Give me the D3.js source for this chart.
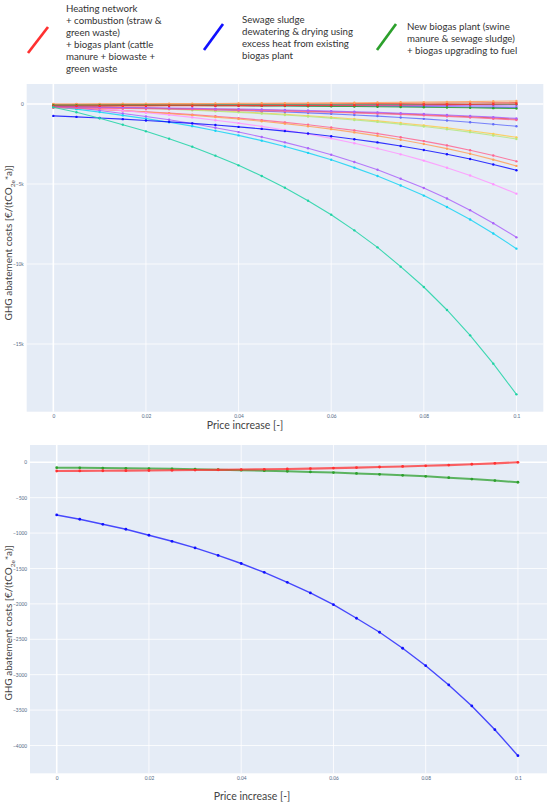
<!DOCTYPE html>
<html><head><meta charset="utf-8">
<script src="https://cdn.jsdelivr.net/npm/d3@7"></script>
<style>body{margin:0;background:#fff} svg{display:block}</style>
</head><body><svg id="c" width="550" height="806"></svg>
<script>
// ---------- data ----------
const priceIncrease = [0,0.005,0.01,0.015,0.02,0.025,0.03,0.035,0.04,0.045,0.05,0.055,0.06,0.065,0.07,0.075,0.08,0.085,0.09,0.095,0.1];
const xTicks = [0,0.02,0.04,0.06,0.08,0.1];
const xTickLabels = ["0","0.02","0.04","0.06","0.08","0.1"];
const topYTicks = [0,-5000,-10000,-15000];
const topYTickLabels = ["0","\u22125k","\u221210k","\u221215k"];
const bottomYTicks = [0,-500,-1000,-1500,-2000,-2500,-3000,-3500,-4000];
const bottomYTickLabels = ["0","\u2212500","\u22121000","\u22121500","\u22122000","\u22122500","\u22123000","\u22123500","\u22124000"];

const legendNames = [
  ["Heating network","+ combustion (straw &","green waste)","+ biogas plant (cattle","manure + biowaste +","green waste"],
  ["Sewage sludge","dewatering & drying using","excess heat from existing","biogas plant"],
  ["New biogas plant (swine","manure & sewage sludge)","+ biogas upgrading to fuel"]
];

// highlighted scenarios (shown in both charts)
const heatingNetwork = [-123,-122,-120,-118,-116,-113,-110,-107,-103,-99,-95,-89,-82,-75,-67,-59,-50,-40,-28,-15,0];
const sewageSludge   = [-744,-805,-876,-946,-1031,-1116,-1210,-1315,-1430,-1555,-1695,-1846,-2011,-2203,-2401,-2627,-2873,-3145,-3442,-3777,-4144];
const newBiogas      = [-76,-79,-82,-85,-89,-93,-98,-104,-111,-118,-127,-136,-146,-157,-170,-184,-199,-217,-237,-258,-282];

// other scenarios (top chart only)
const scenTeal     = [-206,-519,-894,-1292,-1708,-2167,-2667,-3229,-3833,-4500,-5229,-6042,-6917,-7896,-8958,-10167,-11438,-12875,-14458,-16229,-18146];
const scenCyan     = [-170,-321,-507,-711,-915,-1137,-1385,-1669,-1962,-2290,-2654,-3053,-3488,-3976,-4500,-5094,-5724,-6434,-7214,-8093,-9042];
const scenPurple   = [-90,-230,-403,-593,-782,-988,-1219,-1483,-1755,-2060,-2398,-2769,-3173,-3626,-4112,-4665,-5250,-5910,-6635,-7451,-8333];
const scenViolet   = [-80,-174,-290,-417,-544,-682,-837,-1013,-1196,-1400,-1627,-1875,-2146,-2450,-2776,-3146,-3538,-3980,-4466,-5013,-5604];
const scenRose     = [-200,-258,-329,-406,-484,-569,-663,-770,-883,-1009,-1147,-1300,-1465,-1651,-1851,-2078,-2318,-2588,-2886,-3221,-3583];
const scenOrange   = [-200,-262,-339,-424,-508,-600,-703,-820,-941,-1077,-1228,-1393,-1573,-1774,-1991,-2237,-2497,-2791,-3114,-3477,-3870];
const scenYellow   = [-80,-114,-156,-202,-248,-298,-354,-419,-485,-559,-641,-731,-829,-939,-1057,-1192,-1334,-1494,-1670,-1869,-2083];
const scenLime     = [-100,-135,-179,-227,-275,-328,-386,-453,-522,-599,-685,-779,-881,-996,-1119,-1259,-1407,-1574,-1758,-1965,-2188];
const scenIndigo   = [-150,-171,-197,-226,-254,-286,-320,-360,-401,-447,-498,-554,-615,-684,-757,-840,-929,-1028,-1138,-1261,-1394];
const scenRed2     = [-200,-213,-229,-246,-263,-282,-303,-327,-352,-379,-410,-444,-481,-522,-566,-616,-670,-730,-796,-870,-950];
const scenRose2    = [-230,-243,-259,-277,-295,-314,-335,-360,-386,-414,-446,-480,-518,-560,-606,-657,-712,-774,-841,-918,-1000];
const scenPurple2  = [-170,-182,-198,-215,-231,-250,-270,-293,-317,-344,-374,-407,-443,-483,-526,-575,-627,-685,-750,-822,-900];
const scenOrange2  = [0,3,7,12,16,21,26,32,38,45,53,62,71,82,93,105,119,134,151,170,190];
const scenGreen2   = [-40,-40,-39,-39,-38,-38,-37,-36,-36,-35,-34,-33,-32,-31,-30,-29,-27,-26,-24,-23,-21];
const scenIndigo2  = [-60,-63,-66,-70,-74,-78,-83,-89,-94,-100,-107,-115,-123,-133,-142,-154,-166,-179,-194,-211,-229];
const scenPurple3  = [-50,-51,-53,-55,-56,-58,-60,-63,-65,-68,-71,-74,-78,-82,-87,-92,-97,-103,-110,-117,-125];
const scenRed3     = [-20,-18,-16,-14,-11,-9,-6,-3,1,5,9,13,19,24,30,37,45,53,62,72,83];

// ---------- styling tables ----------
const RED = "#ff3030", BLUE = "#1010ff", GREEN = "#2ca02c";
const topSeries = [
  {v: scenYellow,  c: "#FECB52"},
  {v: scenLime,    c: "#B6E880"},
  {v: scenRose,    c: "#FF6692"},
  {v: scenOrange,  c: "#FFA15A"},
  {v: scenViolet,  c: "#FF97FF"},
  {v: scenPurple,  c: "#AB63FA"},
  {v: scenCyan,    c: "#19D3F3"},
  {v: scenIndigo,  c: "#636EFA"},
  {v: scenRed2,    c: "#EF553B"},
  {v: scenRose2,   c: "#FF6692"},
  {v: scenPurple2, c: "#AB63FA"},
  {v: scenIndigo2, c: "#636EFA"},
  {v: scenPurple3, c: "#AB63FA"},
  {v: scenGreen2,  c: "#00CC96"},
  {v: scenRed3,    c: "#EF553B"},
  {v: scenOrange2, c: "#FFA15A"},
  {v: newBiogas,   c: GREEN},
  {v: heatingNetwork, c: RED},
  {v: sewageSludge, c: BLUE},
  {v: scenTeal,    c: "#1ED3A4"}
];
const bottomSeries = [
  {v: sewageSludge, c: BLUE, w: 1.4},
  {v: newBiogas, c: GREEN, w: 2.0},
  {v: heatingNetwork, c: RED, w: 2.1}
];

const svg = d3.select("#c");
const FONT = "Lato, 'Open Sans', sans-serif";

// ---------- legend ----------
const legendCols = [
  {c: RED,   x1: 28, y1: 53, x2: 48, y2: 27, tx: 66, ty: 12},
  {c: BLUE,  x1: 204, y1: 50, x2: 223, y2: 24, tx: 242, ty: 23},
  {c: GREEN, x1: 377, y1: 50, x2: 396, y2: 24, tx: 407, ty: 30}
];
legendCols.forEach((l, i) => {
  svg.append("line").attr("x1", l.x1).attr("y1", l.y1).attr("x2", l.x2).attr("y2", l.y2)
    .attr("stroke", l.c).attr("stroke-width", 2.7);
  const t = svg.append("text").attr("font-family", FONT).attr("font-size", 9.7).attr("fill", "#333");
  legendNames[i].forEach((s, k) => {
    t.append("tspan").attr("x", l.tx).attr("y", l.ty + k * 12).text(s);
  });
});

// ---------- panel drawing ----------
function panel(o) {
  const x = d3.scaleLinear().domain(o.xDom).range([o.left, o.right]);
  const y = d3.scaleLinear().domain(o.yDom).range([o.top, o.bottom]);
  const g = svg.append("g");
  g.append("rect").attr("x", o.left).attr("y", o.top).attr("width", o.right - o.left)
    .attr("height", o.bottom - o.top).attr("fill", "#E5ECF6");
  // grid
  g.selectAll(".gx").data(xTicks).join("line")
    .attr("x1", d => x(d)).attr("x2", d => x(d)).attr("y1", o.top).attr("y2", o.bottom)
    .attr("stroke", "#fff").attr("stroke-width", d => d === 0 ? 1.6 : 0.8);
  g.selectAll(".gy").data(o.yTicks).join("line")
    .attr("y1", d => y(d)).attr("y2", d => y(d)).attr("x1", o.left).attr("x2", o.right)
    .attr("stroke", "#fff").attr("stroke-width", d => d === 0 ? 1.6 : 0.8);
  // axes
  const ax = g.append("g").attr("transform", `translate(0,${o.bottom + 1})`)
    .call(d3.axisBottom(x).tickValues(xTicks).tickFormat((d, i) => xTickLabels[i]).tickSize(0).tickPadding(2));
  const ay = g.append("g").attr("transform", `translate(${o.left - 1},0)`)
    .call(d3.axisLeft(y).tickValues(o.yTicks).tickFormat((d, i) => o.yLabels[i]).tickSize(0).tickPadding(2));
  [ax, ay].forEach(a => {
    a.select(".domain").remove();
    a.selectAll("text").attr("font-family", FONT).attr("font-size", 4.8).attr("fill", "#506784");
  });
  // lines
  const line = d3.line().x((d, i) => x(priceIncrease[i])).y(d => y(d));
  o.series.forEach(s => {
    const sg = g.append("g");
    sg.append("path").datum(s.v).attr("d", line).attr("fill", "none")
      .attr("stroke", s.c).attr("stroke-width", s.w || o.lw).attr("opacity", o.op);
    sg.selectAll("circle").data(s.v).join("circle")
      .attr("cx", (d, i) => x(priceIncrease[i])).attr("cy", d => y(d)).attr("r", o.r)
      .attr("fill", s.c);
  });
  // titles
  svg.append("text").attr("x", o.xtX).attr("y", o.xtY).attr("text-anchor", "middle")
    .attr("font-family", FONT).attr("font-size", 10.5).attr("fill", "#444").text("Price increase [-]");
  const yt = svg.append("text").attr("transform", `translate(${o.ytX},${o.ytY}) rotate(-90)`)
    .attr("text-anchor", "middle").attr("font-family", FONT).attr("font-size", 10).attr("fill", "#444");
  yt.append("tspan").text("GHG abatement costs [\u20AC/(tCO");
  yt.append("tspan").attr("font-size", 6.5).attr("dy", 2.5).text("2e");
  yt.append("tspan").attr("dy", -2.5).text("*a)]");
}

panel({
  left: 26.7, right: 543.3, top: 84, bottom: 411.7,
  xDom: [-0.00575, 0.1058], yDom: [1250, -19231],
  yTicks: topYTicks, yLabels: topYTickLabels,
  series: topSeries, lw: 1.1, r: 1.2, op: 0.85,
  xtX: 245, xtY: 429, ytX: 12, ytY: 243
});
panel({
  left: 30, right: 547, top: 445, bottom: 773.3,
  xDom: [-0.00579, 0.1063], yDom: [244, -4393],
  yTicks: bottomYTicks, yLabels: bottomYTickLabels,
  series: bottomSeries, lw: 1.4, r: 1.4, op: 0.75,
  xtX: 252, xtY: 800, ytX: 12, ytY: 623
});
</script>
</body></html>
